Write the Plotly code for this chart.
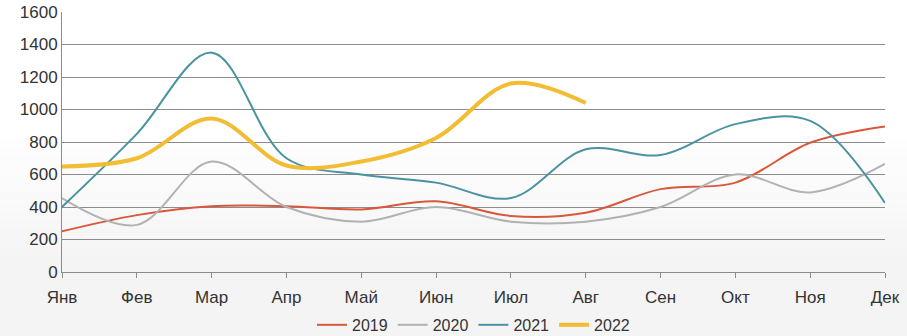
import plotly.graph_objects as go

months = ["Янв", "Фев", "Мар", "Апр", "Май", "Июн", "Июл", "Авг", "Сен", "Окт", "Ноя", "Дек"]
s2019 = [250, 350, 405, 405, 385, 435, 345, 365, 510, 550, 795, 895]
s2020 = [455, 290, 680, 400, 310, 400, 310, 310, 400, 600, 490, 665]
s2021 = [400, 850, 1350, 700, 600, 550, 455, 755, 720, 910, 930, 425]
s2022 = [650, 700, 945, 655, 680, 825, 1160, 1040]

series = [
    ("2019", s2019, "#D9583B", 2),
    ("2020", s2020, "#B2B2B2", 2),
    ("2021", s2021, "#4A92A2", 2),
    ("2022", s2022, "#F2BC33", 4),
]

fig = go.Figure()
for name, vals, color, w in series:
    fig.add_trace(go.Scatter(
        x=months[:len(vals)], y=vals, name=name, mode="lines",
        line=dict(color=color, width=w, shape="spline", smoothing=1.0),
    ))

# soft background gradient (white at top to light gray at bottom)
shapes = []
n = 16
for i in range(n):
    y0 = i / n * 0.55
    y1 = (i + 1) / n * 0.55
    g = int(244 + 11 * (i / (n - 1)))
    shapes.append(dict(type="rect", xref="paper", yref="paper",
                       x0=-0.1, x1=1.1,
                       y0=(-0.3 if i == 0 else y0), y1=y1,
                       fillcolor=f"rgb({g},{g},{g})", line=dict(width=0), layer="below"))

fig.update_layout(
    width=907, height=336,
    margin=dict(l=62, r=22, t=12, b=64, autoexpand=False),
    paper_bgcolor="white",
    plot_bgcolor="rgba(0,0,0,0)",
    font=dict(family="Liberation Sans, Arial, sans-serif", size=17, color="#333333"),
    showlegend=True,
    shapes=shapes,
    legend=dict(orientation="h", x=0.5, xanchor="center",
                yref="container", y=0.033, yanchor="middle",
                font=dict(size=16, color="#333333"), itemwidth=30,
                bgcolor="rgba(0,0,0,0)", tracegroupgap=0),
    xaxis=dict(
        type="category", range=[0, 11], showgrid=False, automargin=False,
        showline=True, linecolor="#8C8C8C", linewidth=1,
        ticks="outside", ticklen=5, tickcolor="#8C8C8C", ticklabelstandoff=5,
        tickfont=dict(size=17, color="#333333"), fixedrange=True,
    ),
    yaxis=dict(
        range=[0, 1600], dtick=200, showgrid=True, gridcolor="#8C8C8C", gridwidth=1,
        showline=True, linecolor="#8C8C8C", linewidth=1, zeroline=False, automargin=False,
        ticks="", tickfont=dict(size=17, color="#333333"), fixedrange=True,
    ),
)
fig.write_html("out.html")
